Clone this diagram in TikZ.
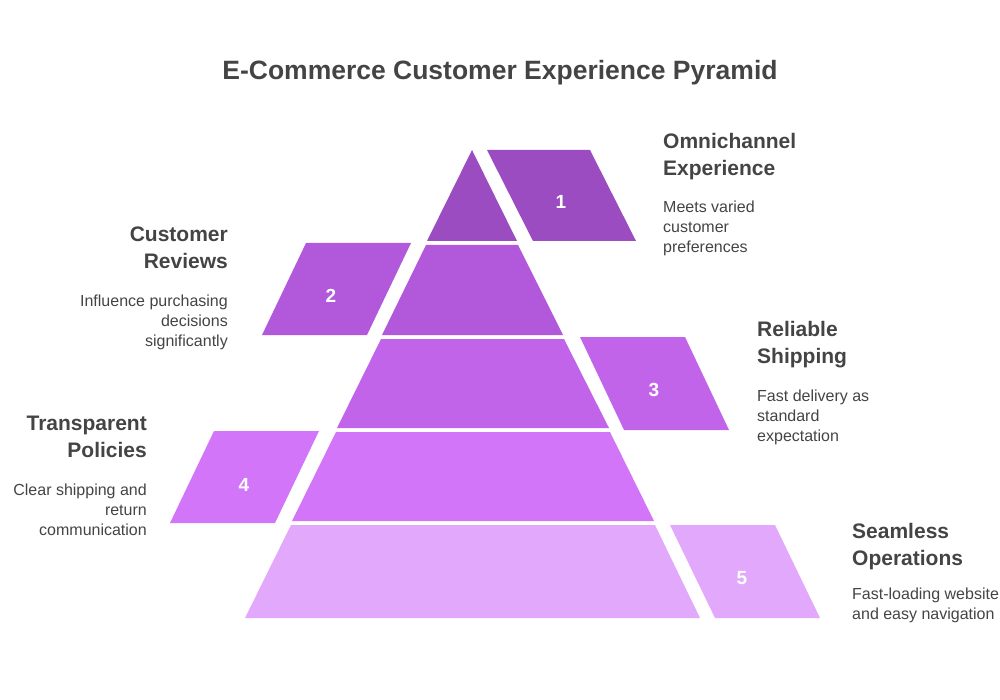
\documentclass[tikz,border=0pt]{standalone}
\usepackage{fontspec}
\setmainfont{Liberation Sans}
\definecolor{tierA}{HTML}{9A4CC0}
\definecolor{tierB}{HTML}{B159DA}
\definecolor{tierC}{HTML}{C264EA}
\definecolor{tierD}{HTML}{D275F8}
\definecolor{tierE}{HTML}{E2A8FC}
\definecolor{ink}{HTML}{444444}
\tikzset{
  num/.style={text=white, font=\bfseries\fontsize{19}{19}\selectfont},
  head/.style={text=ink, font=\bfseries\fontsize{21}{27}\selectfont, align=#1, inner sep=0pt},
  body/.style={text=ink, font=\fontsize{16}{20}\selectfont, align=#1, inner sep=0pt}
}
\begin{document}
\begin{tikzpicture}[x=1pt,y=-1pt]
  \useasboundingbox (0,0) rectangle (1000,700);
  % Titel
  \node[text=ink, font=\bfseries\fontsize{26.5}{26.5}\selectfont] (title) at (500,73) {E-Commerce Customer Experience Pyramid};

  % Pyramide (Stufen)
  \fill[tierA] (472,150) -- (517,241) -- (427,241) -- cycle;
  \fill[tierB] (426,245) -- (518,245) -- (563,335) -- (382,335) -- cycle;
  \fill[tierC] (381,339) -- (564,339) -- (609,428) -- (337,428) -- cycle;
  \fill[tierD] (336,432) -- (610,432) -- (654,521) -- (292,521) -- cycle;
  \fill[tierE] (291,525) -- (655,525) -- (700,618) -- (245,618) -- cycle;

  % Seitenfelder
  \fill[tierA] (487,150) -- (590,150) -- (636,241) -- (533,241) -- cycle;
  \node[num] (n1) at (561,202) {1};
  \fill[tierB] (306,243) -- (411,243) -- (367,335) -- (262,335) -- cycle;
  \node[num] (n2) at (331,296) {2};
  \fill[tierC] (580,337) -- (685,337) -- (729,430) -- (624,430) -- cycle;
  \node[num] (n3) at (654,390) {3};
  \fill[tierD] (214,431) -- (319,431) -- (275,523) -- (170,523) -- cycle;
  \node[num] (n4) at (244,485) {4};
  \fill[tierE] (670,525) -- (775,525) -- (820,618) -- (715,618) -- cycle;
  \node[num] (n5) at (742,578) {5};

  % Beschriftungen rechts
  \node[head=left, anchor=north west] (h1) at (663,133) {Omnichannel\\Experience};
  \node[body=left, anchor=north west] (b1) at (663,201) {Meets varied\\customer\\preferences};
  \node[head=left, anchor=north west] (h3) at (757,321) {Reliable\\Shipping};
  \node[body=left, anchor=north west] (b3) at (757,390) {Fast delivery as\\standard\\expectation};
  \node[head=left, anchor=north west] (h5) at (852,523) {Seamless\\Operations};
  \node[body=left, anchor=north west] (b5) at (852,588) {Fast-loading website\\and easy navigation};

  % Beschriftungen links
  \node[head=right, anchor=north east] (h2) at (228,227) {Customer\\Reviews};
  \node[body=right, anchor=north east] (b2) at (228,295) {Influence purchasing\\decisions\\significantly};
  \node[head=right, anchor=north east] (h4) at (147,416) {Transparent\\Policies};
  \node[body=right, anchor=north east] (b4) at (147,484) {Clear shipping and\\return\\communication};
\end{tikzpicture}
\end{document}
